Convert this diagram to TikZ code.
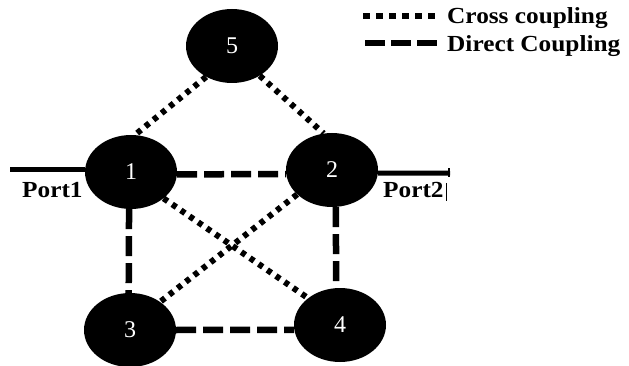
\documentclass[tikz,border=0pt]{standalone}
\usepackage{fontspec}
\setmainfont{Liberation Serif}
\usetikzlibrary{shapes.geometric}
\begin{document}
\begin{tikzpicture}[x=1pt,y=-1pt,
  res/.style={ellipse, fill=black, minimum width=92pt, minimum height=74pt,
    inner sep=0pt, text=white, font=\fontsize{24}{24}\selectfont},
  cross/.style={line width=6pt, dash pattern=on 5pt off 5.5pt},
  direct/.style={line width=6.5pt, dash pattern=on 20pt off 7pt},
  port/.style={line width=5pt},
  lbl/.style={inner sep=0pt, anchor=base west,
    font=\fontsize{23}{23}\selectfont\bfseries}]
\useasboundingbox (0,0) rectangle (629,366);

% resonators
\node[res] (n5) at (232,46)  {5};
\node[res] (n1) at (131,172) {1};
\node[res] (n2) at (332,170) {2};
\node[res] (n3) at (130,330) {3};
\node[res] (n4) at (340,325) {4};

% cross couplings
\draw[cross] (n5.230)   -- (n1.84);
\draw[cross] (n5.313)   -- (n2.103);
\draw[cross] (n1.321)   -- (n4.140);
\draw[cross] (n2.215.5) -- (n3.43);

% direct couplings
\draw[direct] (n1.-3)  -- (n2.185);
\draw[direct] (n1.267) -- (n3.92);
\draw[direct] (n2.276) -- (n4.96);
\draw[direct] (n3.east) -- (n4.186);

% ports
\coordinate (p1) at (10,170);
\coordinate (p2) at (450,173);
\coordinate (t2a) at (449,168.5);
\coordinate (t2b) at (449,177.5);
\draw[port] (p1) -- (p1 -| n1.west);
\draw[port] (n2.-4) -- (p2);
\draw[line width=2.5pt] (t2a) -- (t2b);
\node[lbl] (port1) at (22,197) {\scalebox{1.1}[1]{Port1}};
\node[lbl] (port2) at (383,197.5) {\scalebox{1.1}[1]{Port2}\hspace{2pt}\rule[-3pt]{1.5pt}{17pt}};

% legend
\coordinate (la) at (363,16);
\coordinate (lb) at (437,16);
\coordinate (lc) at (365,43);
\coordinate (ld) at (437,43);
\draw[line width=6pt, dash pattern=on 7pt off 6pt] (la) -- (lb);
\draw[line width=6pt, dash pattern=on 20pt off 6pt] (lc) -- (ld);
\node[lbl] (lcross) at (447,24) {\scalebox{1.1}[1]{Cross coupling}};
\node[lbl] (ldirect) at (447,51.5) {\scalebox{1.1}[1]{Direct Coupling}};
\end{tikzpicture}
\end{document}
